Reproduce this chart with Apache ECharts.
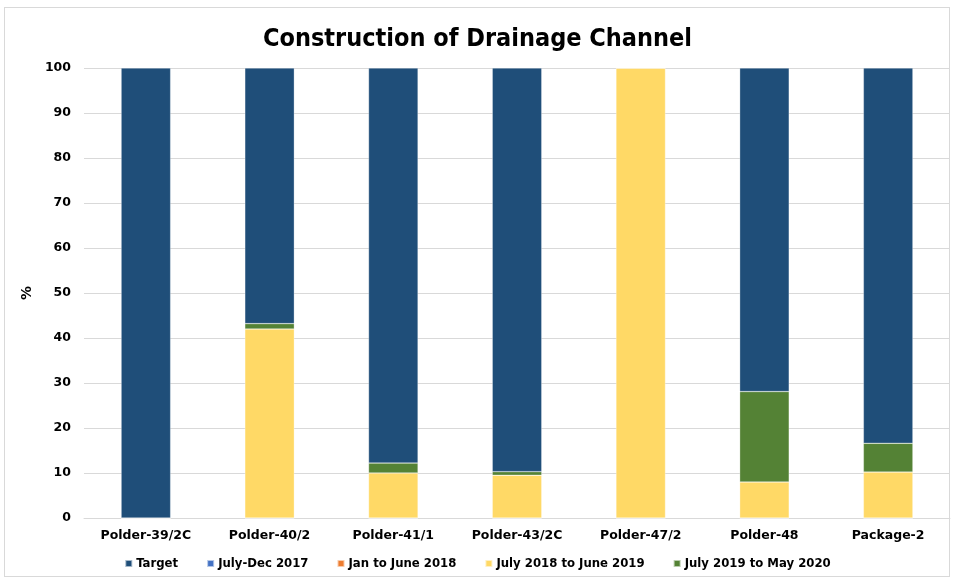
<!DOCTYPE html>
<html>
<head>
<meta charset="utf-8">
<script src="https://cdn.jsdelivr.net/npm/echarts@6/dist/echarts.min.js"></script>
<style>
  html, body { margin: 0; padding: 0; background: #fff; }
  #frame { position: absolute; left: 4px; top: 7px; width: 946px; height: 570px; border: 1px solid #d9d9d9; box-sizing: border-box; }
  #chart { width: 955px; height: 580px; }
</style>
</head>
<body>
<div id="frame"></div>
<div id="chart"></div>
<script>
// categories and series values (percent)
const categories = ['Polder-39/2C', 'Polder-40/2', 'Polder-41/1', 'Polder-43/2C', 'Polder-47/2', 'Polder-48', 'Package-2'];
const julyDec2017 = [0, 0, 0, 0, 0, 0, 0];
const janJune2018 = [0, 0, 0, 0, 0, 0, 0];
const july2018June2019 = [0, 42, 10, 9.5, 100, 8, 10.2];
const july2019May2020 = [0, 1.2, 2.2, 0.8, 0, 20.1, 6.4];
const target = [100, 56.8, 87.8, 89.7, 0, 71.9, 83.4];
const yTicks = [0, 10, 20, 30, 40, 50, 60, 70, 80, 90, 100];

const chart = echarts.init(document.getElementById('chart'), null, { renderer: 'canvas' });

const font = '"DejaVu Sans", Verdana, sans-serif';
const condensed = '"DejaVu Sans Condensed", "DejaVu Sans", sans-serif';

function bar(name, data, color) {
    return {
        name: name,
        type: 'bar',
        stack: 'total',
        barCategoryGap: '60%',
        data: data,
        itemStyle: { color: color, borderColor: 'rgba(255,255,255,0.6)', borderWidth: 0.5 }
    };
}

chart.setOption({
    animation: false,
    title: {
        text: 'Construction of Drainage Channel',
        left: 'center',
        top: 22,
        textStyle: { fontFamily: condensed, fontWeight: 'bold', fontSize: 25, color: '#000' }
    },
    legend: {
        bottom: 5,
        left: 'center',
        itemWidth: 7,
        itemHeight: 7,
        itemGap: 28,
        icon: 'rect',
        data: ['Target', 'July-Dec 2017', 'Jan to June 2018', 'July 2018 to June 2019', 'July 2019 to May 2020'],
        textStyle: { fontFamily: condensed, fontWeight: 'bold', fontSize: 13, color: '#000', padding: [0, 0, 0, -1] }
    },
    grid: { left: 84, right: 5, top: 68, bottom: 62 },
    xAxis: {
        type: 'category',
        data: categories,
        axisTick: { show: false },
        axisLine: { lineStyle: { color: '#d9d9d9' } },
        axisLabel: { fontFamily: font, fontWeight: 'bold', fontSize: 12.5, color: '#000', margin: 11 }
    },
    yAxis: {
        type: 'value',
        min: yTicks[0],
        max: yTicks[yTicks.length - 1],
        interval: 10,
        name: '%',
        nameLocation: 'middle',
        nameGap: 48,
        nameTextStyle: { fontFamily: font, fontWeight: 'bold', fontSize: 14, color: '#000' },
        axisLine: { show: false },
        axisTick: { show: false },
        splitLine: { lineStyle: { color: '#d9d9d9' } },
        axisLabel: { fontFamily: font, fontWeight: 'bold', fontSize: 12.5, color: '#000', margin: 13 }
    },
    series: [
        bar('July-Dec 2017', julyDec2017, '#4472C4'),
        bar('Jan to June 2018', janJune2018, '#ED7D31'),
        bar('July 2018 to June 2019', july2018June2019, '#FFD966'),
        bar('July 2019 to May 2020', july2019May2020, '#548235'),
        bar('Target', target, '#1F4E79')
    ]
});
</script>
</body>
</html>
